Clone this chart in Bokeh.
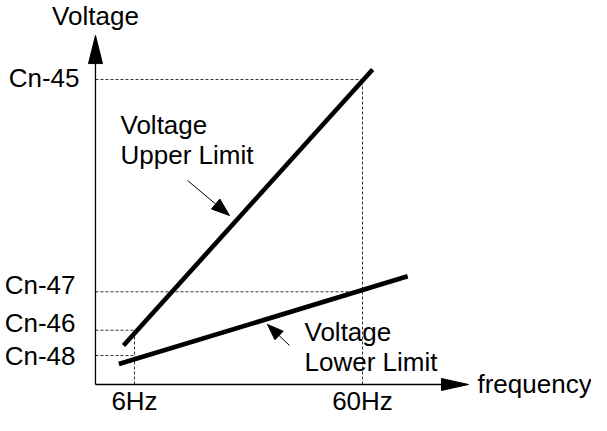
import math
from bokeh.plotting import figure
from bokeh.models import Range1d, ColumnDataSource
from bokeh.core.properties import value
from bokeh.embed import file_html
from bokeh.resources import INLINE

# ---------------- data ----------------
freq_ticks = [6, 60]
freq_tick_labels = ["6Hz", "60Hz"]
volt_ticks = [100.0, 30.4, 17.8, 9.5]
volt_tick_labels = ["Cn-45", "Cn-47", "Cn-46", "Cn-48"]

upper_freq = [3.4, 62.4]
upper_volt = [12.8, 103.3]
lower_freq = [2.3, 70.7]
lower_volt = [6.7, 35.5]

# guide lines: each voltage tick runs to this frequency tick
guide_freq = [60, 60, 6, 6]

upper_note = ["Voltage", "Upper Limit"]
lower_note = ["Voltage", "Lower Limit"]
x_title = "frequency"
y_title = "Voltage"

# ---------------- layout (data units) ----------------
W, H = 591, 415
X0, X1 = -25.737, 114.238
Y0, Y1 = -10.16, 125.90
SX = W / (X1 - X0)   # px per Hz
SY = H / (Y1 - Y0)   # px per volt unit

axis_f0 = -3.24      # where the voltage axis stands
axis_top = 114.4     # tip of the voltage axis arrow
axis_right = 85.1    # tip of the frequency axis arrow

upper_note_pos = (2.68, [82.6, 72.5])
lower_note_pos = (46.26, [14.75, 4.6])
upper_ptr = (18.55, 66.9, 28.5, 55.4)
lower_ptr = (42.7, 12.8, 37.5, 19.7)

FONT = value("Liberation Sans")
FS = "26px"
TDY = -8   # text baseline correction in px

p = figure(width=W, height=H, x_range=Range1d(X0, X1), y_range=Range1d(Y0, Y1),
           output_backend="svg", toolbar_location=None,
           x_axis_type=None, y_axis_type=None, min_border=0,
           min_border_left=0, min_border_right=0, min_border_top=0, min_border_bottom=0)
p.grid.visible = False
p.outline_line_color = None
p.background_fill_color = "white"
p.border_fill_color = "white"


def head(xt, yt, xh, yh, L, Wd):
    dx = (xh - xt) * SX
    dy = (yh - yt) * SY
    n = math.hypot(dx, dy)
    ux, uy = dx / n, dy / n
    px, py = -uy, ux
    bx, by = -L * ux, -L * uy
    xs = [xh, xh + (bx + px * Wd / 2) / SX, xh + (bx - px * Wd / 2) / SX]
    ys = [yh, yh + (by + py * Wd / 2) / SY, yh + (by - py * Wd / 2) / SY]
    return xs, ys, xh + bx / SX, yh + by / SY


# ---------------- dashed guides ----------------
for v, f in zip(volt_ticks, guide_freq):
    p.line([axis_f0, f], [v, v], line_color="#333333", line_width=1, line_dash="3 2")
for f in freq_ticks:
    top = max(v for v, g in zip(volt_ticks, guide_freq) if g == f)
    p.line([f, f], [0, top], line_color="#333333", line_width=1, line_dash="3 2")

# ---------------- axes with arrows ----------------
hx, hy, bx_, by_ = head(axis_f0, 0, axis_f0, axis_top, 28, 14)
p.line([axis_f0, bx_], [0, by_], line_color="black", line_width=1.3)
p.patch(hx, hy, fill_color="black", line_color="black", line_width=1)
hx, hy, bx_, by_ = head(axis_f0, 0, axis_right, 0, 27, 12)
p.line([axis_f0, bx_], [0, by_], line_color="black", line_width=1.3)
p.patch(hx, hy, fill_color="black", line_color="black", line_width=1)

# ---------------- limit lines ----------------
p.line(upper_freq, upper_volt, line_color="black", line_width=4.6, line_cap="butt")
p.line(lower_freq, lower_volt, line_color="black", line_width=4.6, line_cap="butt")

# ---------------- pointers ----------------
for (xt, yt, xh, yh), L, Wd in [(upper_ptr, 18, 13), (lower_ptr, 16, 12)]:
    hx, hy, bx_, by_ = head(xt, yt, xh, yh, L, Wd)
    p.line([xt, bx_], [yt, by_], line_color="black", line_width=1)
    p.patch(hx, hy, fill_color="black", line_color="black", line_width=1)

# ---------------- texts ----------------
ysrc = ColumnDataSource(dict(x=[axis_f0] * 4, y=volt_ticks, text=volt_tick_labels,
                             xo=[-16, -20, -20, -20],
                             yo=[7 + TDY, 1 + TDY, 1 + TDY, 8 + TDY]))
p.text(x="x", y="y", text="text", x_offset="xo", y_offset="yo", source=ysrc,
       text_font=FONT, text_font_size=FS, text_align="right",
       text_baseline="alphabetic", text_color="black")

xsrc = ColumnDataSource(dict(x=freq_ticks, y=[0, 0], text=freq_tick_labels))
p.text(x="x", y="y", text="text", y_offset=24 + TDY, source=xsrc,
       text_font=FONT, text_font_size=FS, text_align="center",
       text_baseline="alphabetic", text_color="black")

p.text(x=[axis_f0], y=[axis_top], text=[y_title], y_offset=-12 + TDY,
       text_font=FONT, text_font_size=FS, text_align="center",
       text_baseline="alphabetic", text_color="black")
p.text(x=[axis_right], y=[0], text=[x_title], x_offset=9, y_offset=7 + TDY,
       text_font=FONT, text_font_size=FS, text_align="left",
       text_baseline="alphabetic", text_color="black")

for (fx, vys), lines in [(upper_note_pos, upper_note), (lower_note_pos, lower_note)]:
    p.text(x=[fx] * len(lines), y=vys, text=lines, y_offset=TDY,
           text_font=FONT, text_font_size=FS, text_align="left",
           text_baseline="alphabetic", text_color="black")

open("out.html", "w").write(file_html(p, INLINE))
